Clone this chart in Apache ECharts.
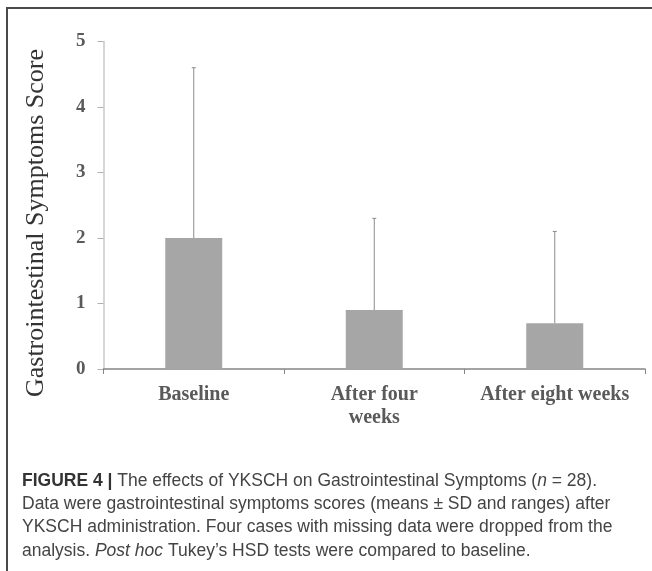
<!DOCTYPE html>
<html>
<head>
<meta charset="utf-8">
<script src="https://cdn.jsdelivr.net/npm/echarts@6/dist/echarts.min.js"></script>
<style>
html,body{margin:0;padding:0;background:#fff;}
#chart{width:652px;height:571px;}
</style>
</head>
<body>
<div id="chart"></div>
<script>
var categories = ['Baseline', 'After four\nweeks', 'After eight weeks'];
var means = [2.0, 0.9, 0.7];
var sds = [2.6, 1.4, 1.4];
var yMin = 0, yMax = 5, yInterval = 1;
var yAxisTitle = 'Gastrointestinal Symptoms Score';
var captionLines = [
  [{t:'FIGURE 4 | ', s:'b'}, {t:'The effects of YKSCH on Gastrointestinal Symptoms (', s:'n'}, {t:'n', s:'i'}, {t:' = 28).', s:'n'}],
  [{t:'Data were gastrointestinal symptoms scores (means \u00B1 SD and ranges) after', s:'n'}],
  [{t:'YKSCH administration. Four cases with missing data were dropped from the', s:'n'}],
  [{t:'analysis. ', s:'n'}, {t:'Post hoc', s:'i'}, {t:' Tukey\u2019s HSD tests were compared to baseline.', s:'n'}]
];

var chart = echarts.init(document.getElementById('chart'), null, {renderer:'canvas'});

var errData = means.map(function (m, i) { return [i, m, m + sds[i]]; });

function rich(parts) {
  return parts.map(function (p) { return '{' + p.s + '|' + p.t + '}'; }).join('');
}
var capSize = 17.5;
var captionRich = {
  b: {fontFamily:'Liberation Sans', fontSize:capSize, fontWeight:'bold', fill:'#333'},
  n: {fontFamily:'Liberation Sans', fontSize:capSize, fill:'#444'},
  i: {fontFamily:'Liberation Sans', fontSize:capSize, fontStyle:'italic', fill:'#444'}
};

var graphics = [
  {type:'polyline', shape:{points:[[7,571],[7,8],[652,8]]}, style:{stroke:'#4a4a4a', lineWidth:2, fill:null}, silent:true},
  {type:'text', x:36, y:223, rotation:Math.PI/2,
   style:{text:yAxisTitle, fontFamily:'Liberation Serif', fontSize:26, fill:'#333', align:'center', verticalAlign:'middle'}}
];
captionLines.forEach(function (parts, k) {
  graphics.push({type:'text', x:22, y:481 + k*23.3,
    style:{text:rich(parts), rich:captionRich, verticalAlign:'middle', align:'left'}});
});

chart.setOption({
  animation:false,
  backgroundColor:'#fff',
  grid:{left:103.5, right:7, top:41.5, bottom:202, containLabel:false},
  xAxis:{
    type:'category', data:categories, boundaryGap:true,
    axisLine:{show:true, lineStyle:{color:'#858585', width:1.5}},
    axisTick:{show:true, alignWithLabel:false, inside:false, length:5, lineStyle:{color:'#858585'}},
    axisLabel:{interval:0, margin:14, fontFamily:'Liberation Serif', fontWeight:'bold', fontSize:20, lineHeight:23, color:'#5a5a5a'},
    splitLine:{show:false}
  },
  yAxis:{
    type:'value', min:yMin, max:yMax, interval:yInterval,
    axisLine:{show:true, lineStyle:{color:'#c8c8c8', width:1.5}},
    axisTick:{show:true, length:6, lineStyle:{color:'#b0b0b0'}},
    axisLabel:{margin:18, fontFamily:'Liberation Serif', fontWeight:'bold', fontSize:19, color:'#5a5a5a'},
    splitLine:{show:false}
  },
  series:[
    {type:'bar', data:means, barWidth:57, itemStyle:{color:'#a6a6a6'}, z:2},
    {type:'custom', data:errData, z:3,
     renderItem:function (params, api) {
       var x = api.value(0);
       var lo = api.coord([x, api.value(1)]);
       var hi = api.coord([x, api.value(2)]);
       return {type:'group', children:[
         {type:'line', shape:{x1:lo[0], y1:lo[1], x2:hi[0], y2:hi[1]}, style:{stroke:'#8c8c8c', lineWidth:1}},
         {type:'line', shape:{x1:hi[0]-2, y1:hi[1], x2:hi[0]+2, y2:hi[1]}, style:{stroke:'#8c8c8c', lineWidth:1}}
       ]};
     }}
  ],
  graphic:graphics
});
</script>
</body>
</html>
